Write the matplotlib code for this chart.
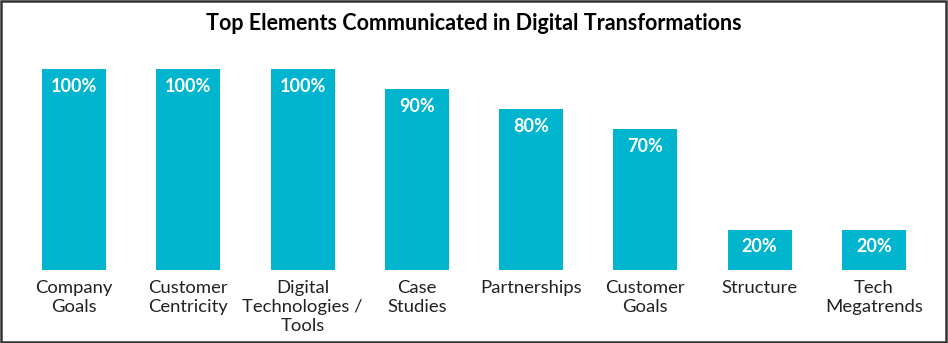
import matplotlib.pyplot as plt
from matplotlib.patches import Rectangle

categories = ['Company\nGoals', 'Customer\nCentricity', 'Digital\nTechnologies /\nTools',
              'Case\nStudies', 'Partnerships', 'Customer\nGoals', 'Structure',
              'Tech\nMegatrends']
values = [100, 100, 100, 90, 80, 70, 20, 20]
labels = ['100%', '100%', '100%', '90%', '80%', '70%', '20%', '20%']

plt.rcParams['font.family'] = ['Lato', 'DejaVu Sans']

fig = plt.figure(figsize=(9.48, 3.43), dpi=100)
ax = fig.add_axes([17 / 948, 73 / 343, 914 / 948, 201 / 343])

x = range(len(values))
bars = ax.bar(x, values, width=0.56, color='#00B5CD')
for b, lab in zip(bars, labels):
    ax.text(b.get_x() + b.get_width() / 2, b.get_height() - 8.5, lab,
            ha='center', va='center', color='white', fontsize=13, fontweight='bold')

ax.set_xlim(-0.5, len(values) - 0.5)
ax.set_ylim(0, 100)
ax.set_xticks(list(x))
ax.set_xticklabels(categories, fontsize=13.3, color='#222222', linespacing=1.25)
ax.tick_params(axis='x', length=0, pad=7)
ax.set_yticks([])
for s in ax.spines.values():
    s.set_visible(False)

fig.text(0.5, 1 - 24 / 343, 'Top Elements Communicated in Digital Transformations',
         ha='center', va='center', fontsize=15.5, fontweight='bold', color='black')

fig.patches.append(Rectangle((0.001, 0.002), 0.997, 0.995, transform=fig.transFigure,
                             fill=False, edgecolor='#333333', linewidth=1.8))

fig.savefig('out.png', dpi=100)
